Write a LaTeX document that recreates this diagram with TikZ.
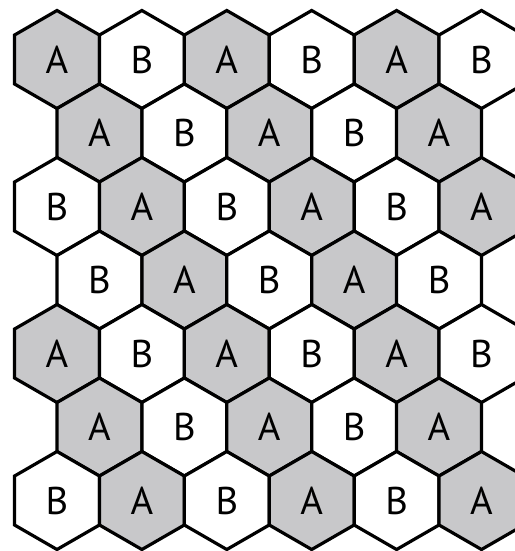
\documentclass[tikz,border=0pt]{standalone}
\usepackage{fontspec}
\setmainfont{PT Sans}
\usepackage{tikz}
\usetikzlibrary{calc}
\definecolor{cellAcolor}{RGB}{200, 200, 202}
\definecolor{cellBcolor}{RGB}{255, 255, 255}
\definecolor{edgecolor}{RGB}{0, 0, 0}
\tikzset{
hexcell/.style={
  draw=edgecolor,
  line width=2.4pt,
  line join=miter
},
celllabel/.style={
  font=\fontsize{29}{32}\selectfont,
  text=edgecolor,
  inner sep=0pt,
  anchor=center
}
}
\begin{document}
\begin{tikzpicture}[x=0.75pt, y=-0.75pt]
  \clip (0,0) rectangle (515,551);
  \fill[white] (0,0) rectangle (515,551);
  % seven rows, the odd ones shifted by half a cell
  \foreach \r in {0,...,6}{
    \pgfmathtruncatemacro\odd{mod(\r,2)}
    \pgfmathtruncatemacro\last{5-\odd}
    \foreach \c in {0,...,\last}{
      \pgfmathsetmacro\cx{57+84.9*\c+42.45*\odd}
      \pgfmathsetmacro\cy{59.5+73.5*\r}
      \pgfmathtruncatemacro\isA{mod(\c+floor(\r/2),2)==0 ? 1 : 0}
      \ifnum\isA=1
        \def\cellfill{cellAcolor}\def\celltext{A}
      \else
        \def\cellfill{cellBcolor}\def\celltext{B}
      \fi
      \path[hexcell, fill=\cellfill] (\cx,\cy) +(90:49) -- +(150:49) -- +(210:49)
        -- +(270:49) -- +(330:49) -- +(30:49) -- cycle;
      \node[celllabel] (h-\r-\c) at (\cx,\cy) {\celltext};
    }
  }
\end{tikzpicture}
\end{document}
